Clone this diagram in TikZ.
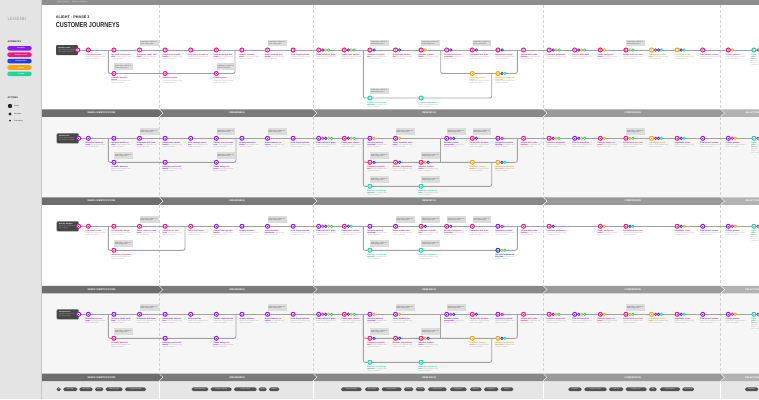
\documentclass[tikz,border=0pt]{standalone}
\usepackage{fontspec}
\setmainfont{Liberation Sans}
\usetikzlibrary{calc}
\definecolor{cP}{HTML}{8A1CF2}
\definecolor{cM}{HTML}{EA1A80}
\definecolor{cB}{HTML}{1F3BE8}
\definecolor{cO}{HTML}{F4A611}
\definecolor{cG}{HTML}{20D49B}
\definecolor{sidec}{HTML}{E4E4E4}
\definecolor{sideedge}{HTML}{C6C6C6}
\definecolor{topc}{HTML}{8E8E8E}
\definecolor{rowg}{HTML}{F6F6F6}
\definecolor{botg}{HTML}{E6E6E6}
\definecolor{darkc}{HTML}{262626}
\definecolor{boxc}{HTML}{474747}
\definecolor{linec}{HTML}{A2A2A2}
\definecolor{ph1}{HTML}{6D6D6D}
\definecolor{ph2}{HTML}{7A7A7A}
\definecolor{ph3}{HTML}{888888}
\definecolor{ph4}{HTML}{999999}
\definecolor{ph5}{HTML}{B2B2B2}
\definecolor{tagc}{HTML}{525252}
\definecolor{notec}{HTML}{DCDCDC}
\pgfdeclarelayer{back}
\pgfdeclarelayer{lines}
\pgfsetlayers{back,lines,main}
\tikzset{
  pri/.style={circle, draw=#1, line width=1pt, fill=white, inner sep=0pt, minimum size=4pt,
    path picture={\fill[#1] (path picture bounding box.center) circle (0.7pt);}},
  sec/.style={circle, draw=#1, line width=0.7pt, fill=white, inner sep=0pt, minimum size=2.5pt},
  lab/.style={anchor=north west, font=\fontsize{1.9}{2.2}\selectfont\bfseries, inner sep=0pt, align=left},
  desc/.style={anchor=north west, font=\fontsize{1.5}{1.9}\selectfont, text=gray!75, inner sep=0pt, align=left},
  note/.style={anchor=south west, fill=notec, inner sep=0.9pt, text width=17pt, minimum height=6.5pt, align=left, font=\fontsize{1.5}{1.9}\selectfont, text=gray!60!black},
  conn/.style={draw=linec, line width=0.9pt, rounded corners=2pt},
  phline/.style={draw=gray!35, line width=0.7pt, dash pattern=on 3pt off 2pt},
  startbox/.style={rectangle, rounded corners=1pt, fill=boxc, minimum width=22pt, minimum height=10pt, text width=17pt, inner sep=1.2pt, align=left, text=white, font=\fontsize{1.6}{2}\selectfont},
  bandtxt/.style={text=white, font=\fontsize{2.4}{2.6}\selectfont\bfseries, inner sep=0pt},
  tag/.style={rectangle, rounded corners=1.6pt, fill=tagc, text=white, minimum height=3.8pt, inner sep=0pt, font=\fontsize{1.4}{1.6}\selectfont},
  pill/.style={rectangle, rounded corners=2.2pt, minimum width=24.4pt, minimum height=4.6pt, inner sep=0pt, text=white, font=\fontsize{1.6}{1.8}\selectfont\bfseries},
  smallhead/.style={anchor=west, inner sep=0pt, text=darkc, font=\fontsize{2.3}{2.5}\selectfont\bfseries}
}
\newcommand\XK[1]{88.3+25.6*#1}
\newcommand\JN[5]{%
  \foreach \c [count=\i from 0] in #4 {%
    \ifnum\i=0 \xdef\firstc{\c}\fi
    \ifnum\i>0 \node[sec=\c] (#1s\i) at ({#2+1.2+2.9*\i},{#3}) {};\fi
  }%
  \pgfmathtruncatemacro\atedge{(#2)>740 ? 1 : 0}%
  \ifnum\atedge=1 \def\lw{7pt}\def\dw{7pt}\else\def\lw{20pt}\def\dw{21pt}\fi
  \node[pri=\firstc] (#1) at ({#2},{#3}) {};
  \node[lab, text=\firstc, text width=\lw] (#1l) at ({#2-2.8},{#3+3.6}) {#5};
  \node[desc, text width=\dw] (#1d) at ({#2-2.8},{#3+6.4}) {Details of the touchpoint and content consumed};
}
\newcommand\RowNodes[3]{\foreach \k/\cl/\lb in {#3} {\JN{#1\k}{\XK{\k}}{#2}{\cl}{\lb}}}
\newcommand\NT[3]{\node[note] (#1) at ({#2},{#3-3.4}) {Opportunity: surface relevant content here};}
\newcommand\Band[2]{%
  \foreach \a/\b/\cc/\t [count=\j] in {42/159/ph1/NEEDS IDENTIFICATION,159/313/ph2/AWARENESS,313/543/ph3/RESEARCH,543/720.5/ph4/COMPARISON,720.5/782/ph5/SELECTION}{%
    \ifnum\j=1
      \fill[\cc] ({\a},{#1}) -- ({\b-0.5},{#1}) -- ({\b+3.5},{#1+3.75}) -- ({\b-0.5},{#1+7.5}) -- ({\a},{#1+7.5}) -- cycle;
    \else
      \fill[\cc] ({\a+0.5},{#1}) -- ({\b-0.5},{#1}) -- ({\b+3.5},{#1+3.75}) -- ({\b-0.5},{#1+7.5}) -- ({\a+0.5},{#1+7.5}) -- ({\a+4.5},{#1+3.75}) -- cycle;
    \fi
    \node[bandtxt] (#2\j) at ({(\a+\b)/2+1},{#1+3.75}) {\t};
  }}
\newcommand\PhaseDash[2]{\foreach \xx in {159,313,543,720.5} {\draw[phline] (\xx,#1) -- (\xx,#2);}}
\begin{document}
\begin{tikzpicture}[x=1pt,y=-1pt]
\useasboundingbox (0,0) rectangle (759,399);
\clip (0,0) rectangle (759,399);

% ---------------- backgrounds ----------------
\begin{pgfonlayer}{back}
\fill[white] (0,0) rectangle (759,399);
\fill[sidec] (0,0) rectangle (40.5,399);
\fill[sideedge] (40.5,0) rectangle (42,399);
\fill[topc] (42,0) rectangle (759,5);
\fill[rowg] (42,116.8) rectangle (759,197.3);
\fill[rowg] (42,293.3) rectangle (759,373.5);
\fill[botg] (42,381) rectangle (759,399);
\PhaseDash{5}{109.3}
\PhaseDash{116.8}{197.3}
\PhaseDash{204.8}{285.8}
\PhaseDash{293.3}{373.5}
\foreach \xx in {159,313,543,720.5} {\draw[white, line width=0.8pt] (\xx,381) -- (\xx,399);}
\end{pgfonlayer}

\node[anchor=west, inner sep=0pt, text=white!85!gray, font=\fontsize{1.8}{2}\selectfont] (topt) at (57,2.5) {Alight Solutions \quad Customer Journeys};

% ---------------- legend ----------------
\node[anchor=west, inner sep=0pt, text=gray!75, font=\fontsize{4.6}{5}\selectfont] (leg) at (7.3,19) {LEGEND};
\node[smallhead] (aud) at (7.3,41.7) {AUDIENCES};
\foreach \cc/\t [count=\j] in {cP/Executive,cM/Benefits Leader,cB/HR Operations,cO/Finance,cG/IT Leader}{%
  \pgfmathsetmacro\yy{48.3+6.4*(\j-1)}
  \node[pill, fill=\cc] (aud\j) at (19.5,\yy) {\hspace{3pt}\t};
  \node[pri=\cc, minimum size=2.2pt, line width=0.6pt] (audd\j) at (9.8,\yy) {};
}
\node[smallhead] (act) at (7.3,97.7) {ACTIONS};
\node[circle, fill=darkc, minimum size=4.4pt, inner sep=0pt] (act1) at (10,106) {};
\node[circle, fill=darkc, minimum size=3.4pt, inner sep=0pt] (act2) at (10,114) {};
\node[circle, fill=darkc, minimum size=2pt, inner sep=0pt] (act3) at (10,120.7) {};
\node[anchor=west, inner sep=0pt, font=\fontsize{1.8}{2}\selectfont, text=darkc] (act1t) at (14,106) {Action};
\node[anchor=west, inner sep=0pt, font=\fontsize{1.8}{2}\selectfont, text=darkc] (act2t) at (14,114) {Decision};
\node[anchor=west, inner sep=0pt, font=\fontsize{1.8}{2}\selectfont, text=darkc] (act3t) at (14,120.7) {Sub-action};

% ---------------- title ----------------
\node[anchor=west, inner sep=0pt, text=darkc, font=\fontsize{3.8}{4}\selectfont\bfseries] (t1) at (55.6,17.3) {ALIGHT - PHASE 3};
\node[anchor=west, inner sep=0pt, text=darkc, font=\fontsize{7.2}{8}\selectfont\bfseries] (t2) at (55.6,25.5) {\scalebox{0.77}[1]{CUSTOMER JOURNEYS}};

% ---------------- banners ----------------
\Band{109.3}{bA}
\Band{197.3}{bB}
\Band{285.8}{bC}
\Band{373.5}{bD}

% ---------------- bottom tags ----------------
\foreach \a/\b/\t [count=\j] in {56.7/60.7/All,63.3/77.3/Life events,79.3/92.7/Cost control,95/103.3/Health,105.7/122.7/Wellbeing goals,125/146/Compliance needs,191.7/208.3/Brand awareness,210.7/231.7/Thought leadership,234/256.7/Industry events,258.7/266.7/Social,269/279.3/Referrals,341/361.7/Solution overview,365/379.3/Case studies,381.7/401.7/Product demos,404/413.3/Pricing,415.7/425/Reviews,428/446.7/Analyst reports,450/466.7/Whitepapers,470/481.7/Webinars,484/498.3/Integrations,500.7/513.3/Security,568.3/581.7/Proposals,584.3/606.7/Reference checks,609/623.3/Total cost,625.7/646.7/Business case,649/656.7/ROI,660/680/Contract terms,682.3/694/Service level,745/758.3/Onboarding}{%
  \pgfmathsetmacro\ww{\b-\a}
  \node[tag, minimum width=\ww pt] (tag\j) at ({(\a+\b)/2},389.3) {\t};
}

% ================= ROW 1 =================
\node[startbox] (s1) at (67,50) {\textbf{Benefits Leader}\\ \textcolor{gray!60}{Owns benefits strategy and vendor decisions}};
\node[pri=cM] (s1d) at (77.7,50) {};
\coordinate (e1) at (759,50);
\RowNodes{r1m}{50}{0/cM/Life event occurs,1/cM/Reviews current benefits,2/cM/Discusses needs with team,3/cM/Researches benefit trends,4/cM/Asks peers for advice,5/cM/Reviews budget and goals,6/cM/Attends industry event,7/cM/Reads thought leadership,8/cM/Visits Alight website,9/{cM,cB,cO,cG}/Views solutions page,10/{cM,cB,cO,cG}/Reads case studies,11/{cM,cB}/Compares capabilities,12/{cM,cB}/Downloads whitepaper,13/{cM,cO}/Watches product demo,14/{cM,cB}/Reviews pricing information,15/{cM,cB}/Contacts sales team,16/{cM,cB}/Requests proposal,17/cM/Shares with stakeholders,18/{cM,cB,cO,cG}/Evaluates proposals,19/{cM,cB,cO,cG}/Checks references,20/{cM,cO}/Reads analyst reports,21/{cM,cO,cG}/Builds business case,22/{cO,cM,cB,cG}/Presents to leadership,23/{cO,cB,cG}/Negotiates terms,24/cM/Final vendor review,25/{cM,cO}/Selects partner,26/{cG,cM}/Signs contract}
\RowNodes{r1l}{73.5}{1/cM/Consults benefits broker,3/cM/Searches online,5/cM/Reads reviews,15/cO/Requests custom demo,16/{cO,cB,cG}/Reviews implementation plan}
\RowNodes{r1b}{98}{11/cG/Explores technology options,13/cG/Reviews integrations}
\foreach \k in {2,7,11,13,15,21} {\NT{n1m\k}{\XK{\k}}{50}}
\foreach \k in {1,5} {\NT{n1l\k}{\XK{\k}}{73.5}}
\NT{n1b11}{\XK{11}}{98}
\coordinate (r1A0) at (108.3,50); \coordinate (r1A1) at (235,73.5);
\coordinate (r1C0) at (440.7,50); \coordinate (r1C1) at (517.3,73.5);
\coordinate (r1B0) at (363.3,50); \coordinate (r1B1) at (491.7,98);
\begin{pgfonlayer}{lines}
\draw[conn] (s1d) -- (e1);
\draw[conn] (r1A0) |- (r1A1) -- (r1A1 |- r1A0);
\draw[conn] (r1C0) |- (r1C1) -- (r1C1 |- r1C0);
\draw[conn] (r1B0) |- (r1B1) -- (r1B1 |- r1C1);
\end{pgfonlayer}

% ================= ROW 2 =================
\node[startbox] (s2) at (67.7,138.3) {\textbf{HR Executive}\\ \textcolor{gray!60}{Sets people strategy and approves budget}};
\node[pri=cP] (s2d) at (78.7,138.3) {};
\coordinate (e2) at (759,138.3);
\RowNodes{r2m}{138.3}{0/cP/Identifies business need,1/cP/Reviews workforce data,2/cP/Discusses with leadership,3/cP/Researches market trends,4/cP/Sets strategic priorities,5/cP/Defines success metrics,6/cP/Attends executive forum,7/cP/Reads industry insights,8/cP/Visits Alight website,9/{cP,cM,cB,cO,cG}/Views solutions page,10/{cM,cB,cO,cG}/Reads case studies,11/{cP,cO}/Reviews platform overview,12/{cP,cO}/Views executive summary,14/{cP,cM,cB}/Reviews partner ecosystem,15/{cM,cB}/Views ROI calculator,16/{cP,cM}/Requests executive briefing,17/cM/Shares with stakeholders,18/{cM,cB,cO,cG}/Evaluates proposals,19/{cP,cB,cO,cG}/Checks references,20/{cM,cO}/Reviews analyst reports,21/{cM,cO,cG}/Builds business case,22/{cO,cM,cB,cG}/Presents to board,23/{cM,cB,cG}/Negotiates terms,24/cP/Final vendor review,25/{cP,cM,cO}/Selects partner,26/{cG,cM}/Signs contract}
\RowNodes{r2l}{162.3}{1/cP/Consults advisors,3/cP/Reviews peer benchmarks,5/cP/Reads analyst reports,11/{cM,cB}/Compares capabilities,12/{cM,cB}/Reviews integrations,13/{cM,cO,cB}/Watches product demo,15/cO/Requests custom demo,16/{cO,cB,cG}/Reviews implementation plan}
\RowNodes{r2b}{186.3}{11/cG/Explores technology options,13/cG/Reviews security details}
\foreach \k in {2,5,7,12,14,15,21} {\NT{n2m\k}{\XK{\k}}{138.3}}
\foreach \k in {1,5,11,13} {\NT{n2l\k}{\XK{\k}}{162.3}}
\foreach \k in {11,13} {\NT{n2b\k}{\XK{\k}}{186.3}}
\coordinate (r2A0) at (108.3,138.3); \coordinate (r2A1) at (236,162.3);
\coordinate (r2C0) at (363.3,138.3); \coordinate (r2C1) at (517.3,162.3);
\coordinate (r2D0) at (440.7,138.3);
\coordinate (r2B1) at (491.7,186.3);
\begin{pgfonlayer}{lines}
\draw[conn] (s2d) -- (e2);
\draw[conn] (r2A0) |- (r2A1) -- (r2A1 |- r2A0);
\draw[conn] (r2C0) |- (r2C1) -- (r2C1 |- r2C0);
\draw[conn] (r2D0) -- (r2D0 |- r2C1);
\draw[conn] (r2C0) |- (r2B1) -- (r2B1 |- r2C1);
\end{pgfonlayer}

% ================= ROW 3 =================
\node[startbox] (s3) at (67.7,226.3) {\textbf{Benefits Manager}\\ \textcolor{gray!60}{Runs day to day benefits programs}};
\node[pri=cM] (s3d) at (78.7,226.3) {};
\coordinate (e3) at (759,226.3);
\RowNodes{r3m}{226.3}{0/cM/Life event occurs,1/cM/Reviews plan usage,2/cM/Hears employee feedback,3/cM/Searches for solutions,4/cM/Talks with broker,5/cP/Shares findings with leader,6/cP/Attends webinar,7/cP/Reads benefits newsletter,8/cP/Visits Alight website,9/{cP,cM,cB,cO,cG}/Views solutions page,10/{cM,cB,cG}/Reads case studies,11/cP/Reviews platform overview,12/cP/Views product tour,13/{cM,cB}/Compares capabilities,14/{cM,cB}/Reviews pricing information,15/cM/Contacts sales team,16/{cP,cM}/Requests proposal,17/cM/Shares with stakeholders,18/{cM,cB}/Evaluates proposals,20/{cM,cO}/Reads analyst reports,21/{cM,cB,cG}/Builds business case,23/{cM,cB,cO}/Negotiates terms,24/cP/Final vendor review,25/{cP,cM,cO}/Selects partner,26/{cG,cM}/Signs contract}
\RowNodes{r3l}{250.3}{1/cM/Asks peers for advice,11/cG/Explores technology options,13/cG/Reviews integrations,16/{cB,cO,cG}/Reviews implementation plan}
\foreach \k in {2,7,12,13,14,15} {\NT{n3m\k}{\XK{\k}}{226.3}}
\foreach \k in {1,11,13} {\NT{n3l\k}{\XK{\k}}{250.3}}
\coordinate (r3A0) at (108.3,226.3); \coordinate (r3A1) at (185,250.3);
\coordinate (r3C0) at (363.3,226.3); \coordinate (r3C1) at (517.3,250.3);
\begin{pgfonlayer}{lines}
\draw[conn] (s3d) -- (e3);
\draw[conn] (r3A0) |- (r3A1) -- (r3A1 |- r3A0);
\draw[conn] (r3C0) |- (r3C1) -- (r3C1 |- r3C0);
\end{pgfonlayer}

% ================= ROW 4 =================
\node[startbox] (s4) at (67.7,314.3) {\textbf{HR Operations}\\ \textcolor{gray!60}{Manages administration and vendors}};
\node[pri=cP] (s4d) at (78.7,314.3) {};
\coordinate (e4) at (759,314.3);
\RowNodes{r4m}{314.3}{0/cP/Identifies process gaps,1/cP/Reviews admin workload,2/cP/Discusses with team,3/cP/Researches automation,4/cP/Sets priorities,5/cP/Defines requirements,6/cP/Attends webinar,7/cP/Reads industry insights,8/cP/Visits Alight website,9/{cP,cM,cB,cO,cG}/Views solutions page,10/{cM,cB,cO,cG}/Reads case studies,11/{cP,cO}/Reviews platform overview,12/{cP,cO}/Views product tour,14/{cP,cM,cB}/Reviews partner ecosystem,15/{cM,cB}/Views ROI calculator,16/{cP,cM}/Requests proposal,17/cM/Shares with stakeholders,18/{cM,cB,cO,cG}/Evaluates proposals,19/{cP,cB,cO,cG}/Checks references,20/{cM,cO}/Reviews analyst reports,21/{cM,cO,cG}/Builds business case,22/{cO,cM,cB,cG}/Presents to leadership,23/{cM,cB,cG}/Negotiates terms,24/cP/Final vendor review,25/{cP,cM,cO}/Selects partner,26/{cG,cM}/Signs contract}
\RowNodes{r4l}{338.3}{1/cM/Consults advisors,3/cP/Reviews peer benchmarks,5/cP/Reads analyst reports,11/{cM,cB}/Compares capabilities,12/{cM,cB}/Reviews integrations,13/{cM,cO,cB}/Watches product demo,15/cO/Requests custom demo,16/{cO,cB,cG}/Reviews implementation plan}
\RowNodes{r4b}{362.3}{11/cG/Explores technology options,13/cG/Reviews security details}
\foreach \k in {2,7,12,14,21} {\NT{n4m\k}{\XK{\k}}{314.3}}
\foreach \k in {1,11,13} {\NT{n4l\k}{\XK{\k}}{338.3}}
\coordinate (r4A0) at (108.3,314.3); \coordinate (r4A1) at (236,338.3);
\coordinate (r4C0) at (363.3,314.3); \coordinate (r4C1) at (517.3,338.3);
\coordinate (r4D0) at (440.7,314.3);
\coordinate (r4B1) at (491.7,362.3);
\begin{pgfonlayer}{lines}
\draw[conn] (s4d) -- (e4);
\draw[conn] (r4A0) |- (r4A1) -- (r4A1 |- r4A0);
\draw[conn] (r4C0) |- (r4C1) -- (r4C1 |- r4C0);
\draw[conn] (r4D0) -- (r4D0 |- r4C1);
\draw[conn] (r4C0) |- (r4B1) -- (r4B1 |- r4C1);
\end{pgfonlayer}
\end{tikzpicture}
\end{document}
